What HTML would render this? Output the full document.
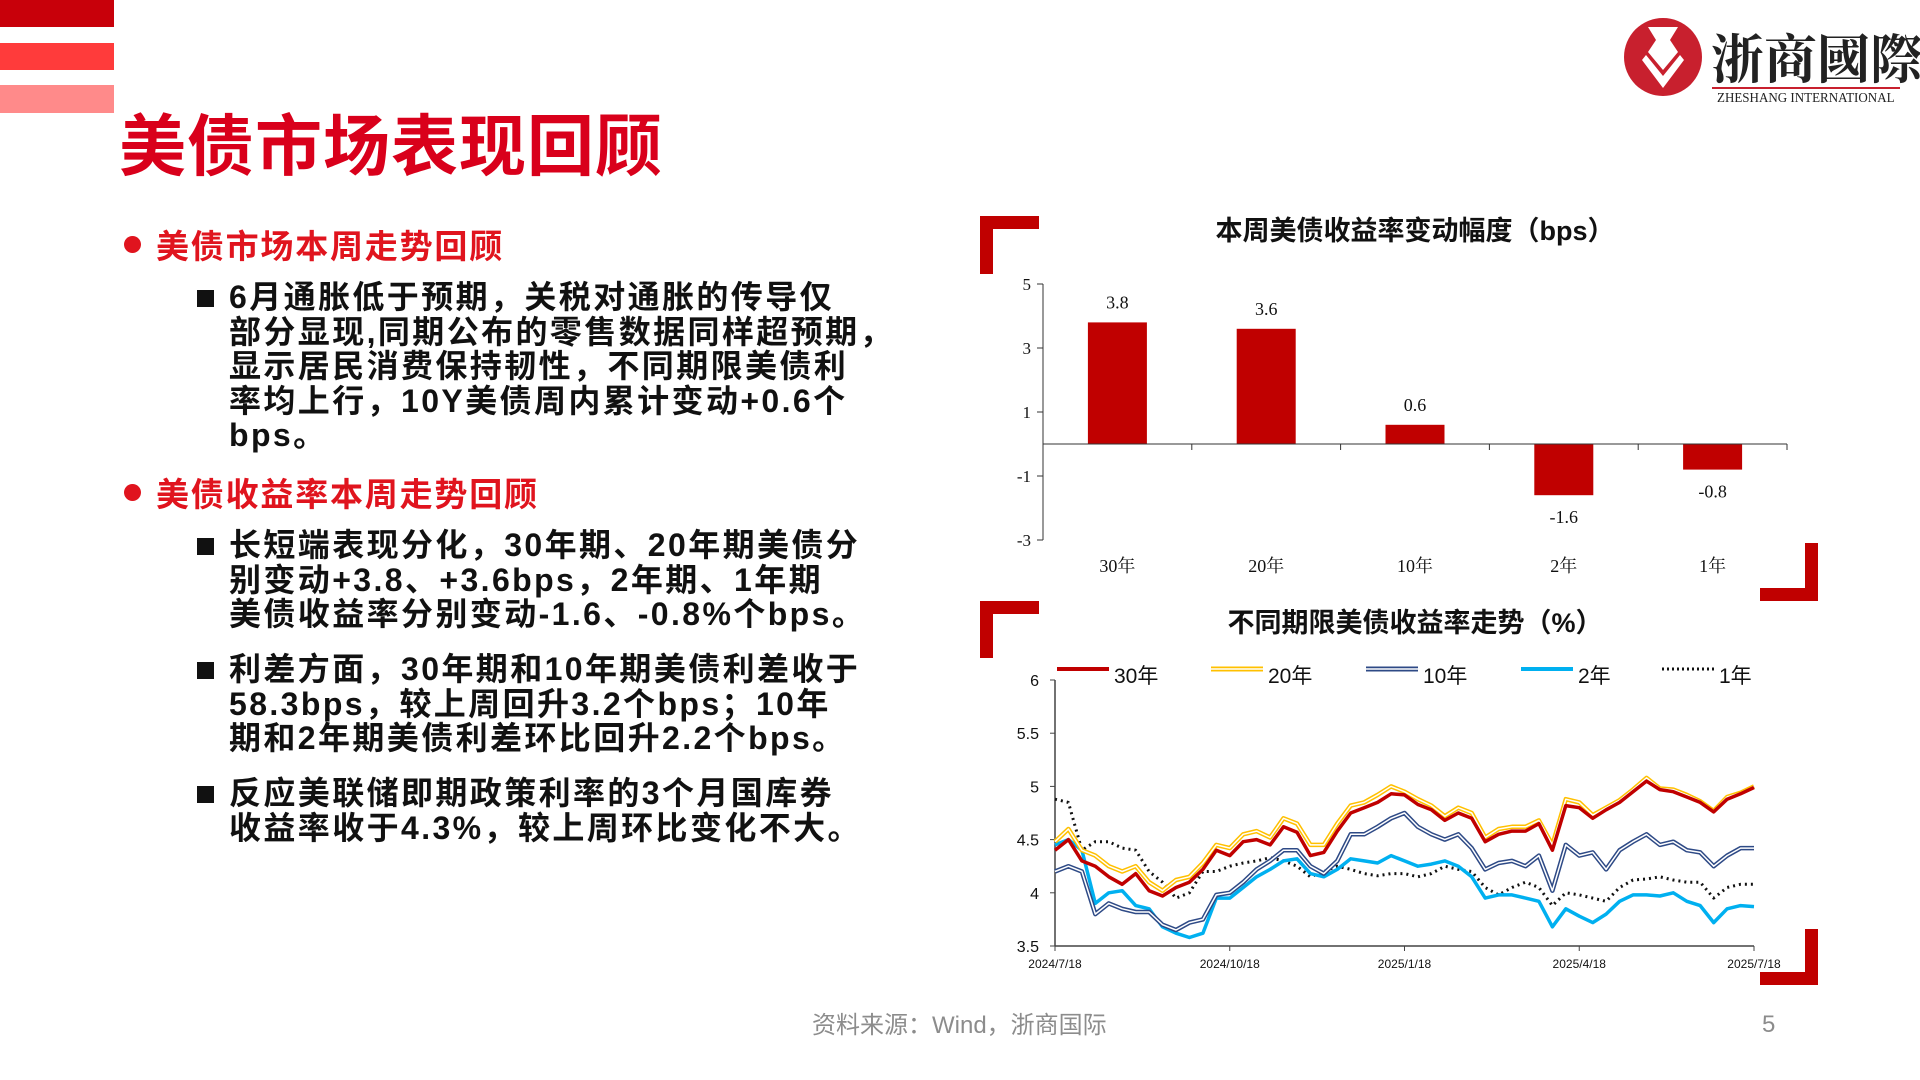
<!DOCTYPE html>
<html><head><meta charset="utf-8">
<style>
html,body{margin:0;padding:0;}
body{width:1920px;height:1080px;position:relative;overflow:hidden;background:#fff;font-family:"Liberation Sans","Noto Sans CJK SC",sans-serif;}
.abs{position:absolute;}
.h2{position:absolute;left:156px;font-size:33px;font-weight:bold;color:#e0141e;white-space:nowrap;letter-spacing:1.8px;}
.dot{position:absolute;left:124px;width:17px;height:17px;border-radius:50%;background:#e0141e;}
.para{position:absolute;left:229px;font-size:32px;font-weight:bold;color:#111;line-height:34.5px;white-space:nowrap;letter-spacing:2.4px;}
.sq{position:absolute;left:197px;width:17px;height:17px;background:#111;}
</style></head><body>
<div class="abs" style="left:0;top:0;width:114px;height:27px;background:#c8000a"></div>
<div class="abs" style="left:0;top:43px;width:114px;height:27px;background:#ff3b3b"></div>
<div class="abs" style="left:0;top:85px;width:114px;height:28px;background:#ff8a8a"></div>
<div class="abs" style="left:119px;top:93px;font-size:67px;font-weight:bold;color:#d9001b;white-space:nowrap;letter-spacing:1px">美债市场表现回顾</div>

<div>
<svg class="abs" style="left:1618px;top:10px" width="300" height="110">
<circle cx="45" cy="47" r="39" fill="#c8202e"/>
<path d="M30 17 L60 17 L52 30 L60 42 L45 60 L30 42 L38 30 Z" fill="#fff"/>
<path d="M28 45 L45 66 L62 45 L66 50 L45 78 L24 50 Z" fill="#fff"/>
<rect x="94" y="77" width="188" height="2" fill="#c8202e"/>
</svg>
<div class="abs" style="left:1711px;top:18px;font-size:53px;font-family:'Noto Serif CJK SC',serif;font-weight:bold;color:#222;white-space:nowrap">浙商國際</div>
<div class="abs" style="left:1717px;top:91px;font-size:14px;font-family:'Liberation Serif',serif;color:#222;white-space:nowrap;transform:scaleX(0.93);transform-origin:left">ZHESHANG INTERNATIONAL</div>
</div>

<div class="dot" style="top:236px"></div>
<div class="h2" style="top:220px">美债市场本周走势回顾</div>
<div class="sq" style="top:290px"></div>
<div class="para" style="top:280px">6月通胀低于预期，关税对通胀的传导仅<br>部分显现,同期公布的零售数据同样超预期，<br>显示居民消费保持韧性，不同期限美债利<br>率均上行，10Y美债周内累计变动+0.6个<br>bps。</div>

<div class="dot" style="top:484px"></div>
<div class="h2" style="top:468px">美债收益率本周走势回顾</div>
<div class="sq" style="top:538px"></div>
<div class="para" style="top:528px">长短端表现分化，30年期、20年期美债分<br>别变动+3.8、+3.6bps，2年期、1年期<br>美债收益率分别变动-1.6、-0.8%个bps。</div>
<div class="sq" style="top:662px"></div>
<div class="para" style="top:652px">利差方面，30年期和10年期美债利差收于<br>58.3bps，较上周回升3.2个bps；10年<br>期和2年期美债利差环比回升2.2个bps。</div>
<div class="sq" style="top:786px"></div>
<div class="para" style="top:776px">反应美联储即期政策利率的3个月国库券<br>收益率收于4.3%，较上周环比变化不大。</div>

<div class="abs" style="left:812px;top:1005px;font-size:24px;color:#8c8c8c;white-space:nowrap">资料来源：Wind，浙商国际</div>
<div class="abs" style="left:1762px;top:1011px;font-size:24px;color:#8c8c8c">5</div>

<svg id="charts" class="abs" style="left:-6px;top:-3px" width="1920" height="1080">
<g fill="#c00000">
<rect x="986" y="219" width="59" height="13"/><rect x="986" y="219" width="13" height="58"/>
<rect x="1811" y="546" width="13" height="58"/><rect x="1766" y="591" width="58" height="13"/>
<rect x="986" y="604" width="59" height="13"/><rect x="986" y="604" width="13" height="57"/>
<rect x="1811" y="932" width="13" height="56"/><rect x="1766" y="975" width="58" height="13"/>
</g>
<text x="1421" y="243" text-anchor="middle" font-size="27" font-weight="bold" fill="#111">本周美债收益率变动幅度（bps）</text>
<g id="bars"></g>
<text x="1421" y="635" text-anchor="middle" font-size="27" font-weight="bold" fill="#111">不同期限美债收益率走势（%）</text>
<g id="lines"></g>
</svg>

<script>
const barCats = ["30年","20年","10年","2年","1年"];
const barVals = [3.8, 3.6, 0.6, -1.6, -0.8];
const barLabels = ["3.8","3.6","0.6","-1.6","-0.8"];
const barTicks = [5, 3, 1, -1, -3];

const lineSeriesNames = ["30年","20年","10年","2年","1年"];
const y30 = [4.40,4.50,4.30,4.25,4.15,4.08,4.18,4.02,3.97,4.05,4.10,4.22,4.40,4.35,4.48,4.50,4.45,4.62,4.57,4.35,4.38,4.58,4.75,4.80,4.85,4.93,4.92,4.83,4.78,4.68,4.75,4.70,4.48,4.55,4.58,4.58,4.65,4.40,4.82,4.80,4.70,4.78,4.85,4.95,5.05,4.97,4.95,4.90,4.85,4.76,4.88,4.93,4.99];
const y20 = [4.48,4.60,4.40,4.35,4.25,4.20,4.25,4.10,4.02,4.12,4.15,4.28,4.45,4.42,4.55,4.58,4.52,4.70,4.65,4.45,4.45,4.65,4.82,4.85,4.92,5.00,4.95,4.88,4.82,4.72,4.80,4.75,4.52,4.60,4.62,4.62,4.68,4.45,4.88,4.85,4.73,4.80,4.87,4.97,5.08,4.98,4.97,4.92,4.86,4.77,4.90,4.94,5.00];
const y10 = [4.20,4.25,4.20,3.80,3.90,3.85,3.82,3.82,3.70,3.65,3.72,3.75,3.98,4.00,4.10,4.22,4.30,4.40,4.40,4.25,4.18,4.30,4.55,4.55,4.62,4.70,4.75,4.62,4.55,4.50,4.55,4.42,4.22,4.28,4.30,4.25,4.35,4.02,4.45,4.35,4.38,4.22,4.40,4.48,4.55,4.45,4.48,4.40,4.38,4.25,4.35,4.42,4.42];
const y2 = [4.45,4.50,4.40,3.90,4.00,4.02,3.88,3.85,3.68,3.62,3.58,3.62,3.95,3.95,4.05,4.15,4.22,4.30,4.32,4.18,4.15,4.22,4.32,4.30,4.28,4.35,4.30,4.25,4.27,4.30,4.25,4.15,3.95,3.98,3.98,3.95,3.92,3.68,3.85,3.78,3.72,3.80,3.92,3.98,3.98,3.97,4.00,3.92,3.88,3.72,3.85,3.88,3.87];
const y1 = [4.88,4.85,4.40,4.48,4.48,4.42,4.40,4.20,4.10,3.95,4.00,4.20,4.20,4.25,4.28,4.30,4.33,4.30,4.25,4.15,4.20,4.25,4.22,4.18,4.16,4.18,4.18,4.15,4.18,4.25,4.22,4.20,4.05,3.98,4.05,4.10,4.05,3.88,4.00,3.98,3.95,3.92,4.05,4.12,4.13,4.15,4.12,4.10,4.10,3.95,4.05,4.08,4.08];
const lineYTicks = [6, 5.5, 5, 4.5, 4, 3.5];
const dateLabels = ["2024/7/18","2024/10/18","2025/1/18","2025/4/18","2025/7/18"];
const dateIdx = [0, 13, 26, 39, 52];

const NS = "http://www.w3.org/2000/svg";
function mk(tag, attrs, parent){const e=document.createElementNS(NS,tag);for(const k in attrs)e.setAttribute(k,attrs[k]);parent.appendChild(e);return e;}

// ---- bar chart ----
const bg = document.getElementById('bars');
const bX0=1049, bX1=1793, bYtop=287, bYbot=543, bMax=5, bMin=-3;
const by = v => bYtop + (bMax - v) * (bYbot - bYtop) / (bMax - bMin);
const band = (bX1 - bX0) / barCats.length;
const bx = i => bX0 + band * (i + 0.5);
let ax = mk('line',{x1:bX0,y1:bYtop,x2:bX0,y2:bYbot,stroke:'#333','stroke-width':1},bg);


barTicks.forEach(t=>{
  const tk = mk('line',{x1:bX0-6,y1:by(t),x2:bX0,y2:by(t),stroke:'#333'},bg);
  
  
  const tl = mk('text',{x:bX0-12,y:by(t)+6,'text-anchor':'end','font-size':17,'font-family':'Liberation Serif,serif',fill:'#111'},bg);
  tl.textContent = t;
  
  
});
barVals.forEach((v,i)=>{
  const w=59, y0=by(0), yv=by(v);
  const r = mk('rect',{x:bx(i)-w/2,y:Math.min(y0,yv),width:w,height:Math.abs(yv-y0),fill:'#c00000'},bg);
  
  
  const ly = v>=0 ? yv-14 : yv+28;
  const lt = mk('text',{x:bx(i),y:ly,'text-anchor':'middle','font-size':18,'font-family':'Liberation Serif,serif',fill:'#111'},bg);
  lt.textContent = barLabels[i];
  
  
  const ct = mk('text',{x:bx(i),y:575,'text-anchor':'middle','font-size':18,'font-family':'Liberation Serif,Noto Serif CJK SC,serif',fill:'#111'},bg);
  ct.textContent = barCats[i];
  
  
});
let zx = mk('line',{x1:bX0,y1:by(0),x2:bX1,y2:by(0),stroke:'#333','stroke-width':1},bg);


for(let i=0;i<=barCats.length;i++){
  const t = mk('line',{x1:bX0+band*i,y1:by(0),x2:bX0+band*i,y2:by(0)+6,stroke:'#333'},bg);
  
  
}

// ---- line chart ----
const lg = document.getElementById('lines');
const lX0=1061, lX1=1760, lYtop=683, lYbot=949, lMax=6, lMin=3.5;
const n = y30.length;
const lx = i => lX0 + i * (lX1 - lX0) / (n - 1);
const ly = v => lYtop + (lMax - v) * (lYbot - lYtop) / (lMax - lMin);
let la = mk('line',{x1:lX0,y1:lYtop,x2:lX0,y2:lYbot,stroke:'#444','stroke-width':1.5},lg);


let lb = mk('line',{x1:lX0,y1:lYbot,x2:lX1,y2:lYbot,stroke:'#444','stroke-width':1.5},lg);


lineYTicks.forEach(t=>{
  const tk = mk('line',{x1:lX0-5,y1:ly(t),x2:lX0,y2:ly(t),stroke:'#444'},lg);
  
  
  const tl = mk('text',{x:lX0-16,y:ly(t)+6,'text-anchor':'end','font-size':16,fill:'#111'},lg);
  tl.textContent = t;
  
  
});
dateLabels.forEach((d,k)=>{
  const x = lx(dateIdx[k]);
  const tk = mk('line',{x1:x,y1:lYbot,x2:x,y2:lYbot+5,stroke:'#444'},lg);
  
  
  const tl = mk('text',{x:x,y:lYbot+22,'text-anchor':'middle','font-size':12,fill:'#111'},lg);
  tl.textContent = d;
  
  
});
const pts = arr => arr.map((v,i)=>lx(i).toFixed(1)+','+ly(v).toFixed(1)).join(' ');
function series(arr, name, layers){
  layers.forEach(st=>{
    const p = mk('polyline',Object.assign({points:pts(arr),fill:'none','stroke-linejoin':'round'},st),lg);
    
    
  });
}
series(y1,'1y',[{stroke:'#111','stroke-width':3,'stroke-dasharray':'2 4'}]);
series(y2,'2y',[{stroke:'#00b0f0','stroke-width':3.5}]);
series(y10,'10y',[{stroke:'#2e4a86','stroke-width':4.5},{stroke:'#fff','stroke-width':1.5}]);
series(y20,'20y',[{stroke:'#ffc000','stroke-width':4.5},{stroke:'#fff','stroke-width':1.5}]);
series(y30,'30y',[{stroke:'#c00000','stroke-width':3.5}]);

// legend
const legX = [1063, 1217, 1372, 1527, 1668];
const legStyles = [
  [{stroke:'#c00000','stroke-width':4}],
  [{stroke:'#ffc000','stroke-width':5},{stroke:'#fff','stroke-width':1.5}],
  [{stroke:'#2e4a86','stroke-width':5},{stroke:'#fff','stroke-width':1.5}],
  [{stroke:'#00b0f0','stroke-width':4}],
  [{stroke:'#111','stroke-width':3,'stroke-dasharray':'2 3'}]
];
lineSeriesNames.forEach((nm,k)=>{
  legStyles[k].forEach(st=>{
    const l = mk('line',Object.assign({x1:legX[k],y1:672,x2:legX[k]+52,y2:672},st),lg);
    
    
  });
  const t = mk('text',{x:legX[k]+57,y:686,'font-size':21,fill:'#111'},lg);
  t.textContent = nm;
  
  
});
</script>
</body></html>
